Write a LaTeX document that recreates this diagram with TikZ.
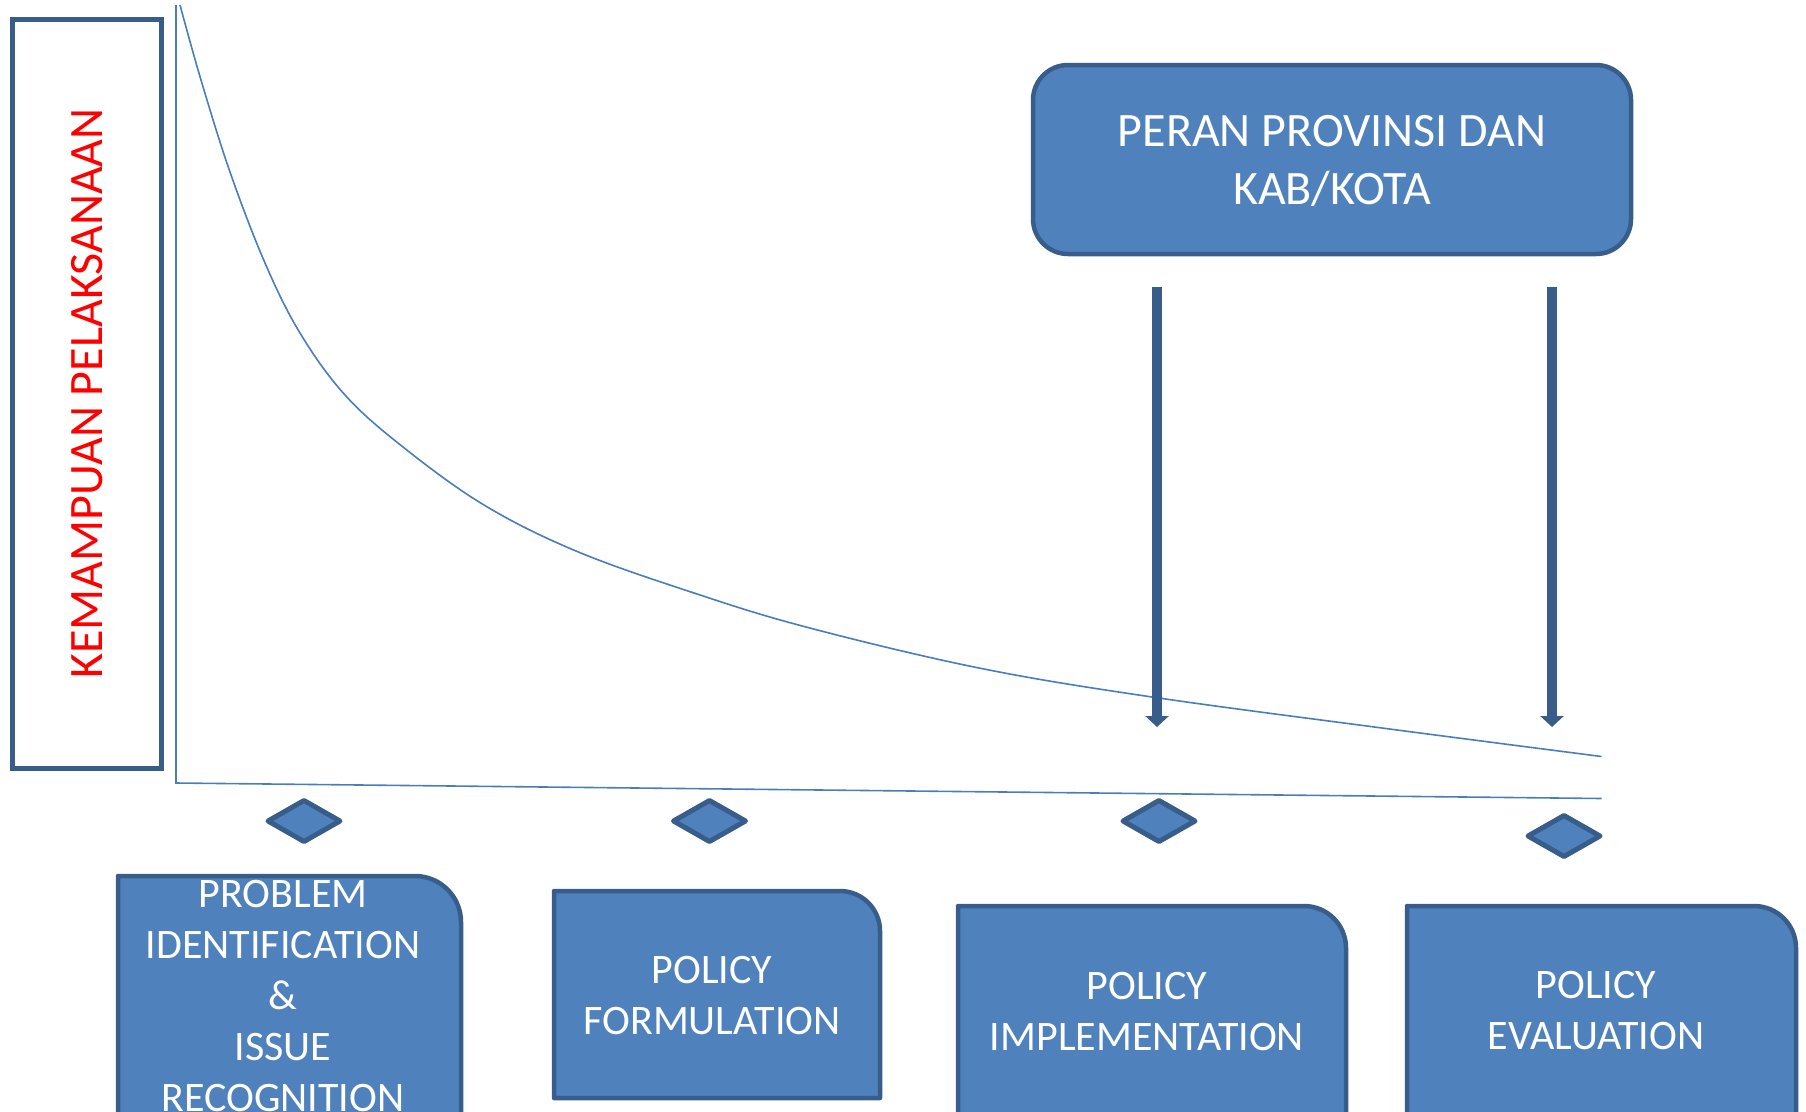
\documentclass[tikz,border=0pt]{standalone}
\usepackage{fontspec}
\setmainfont{Carlito}
\usetikzlibrary{arrows.meta,shapes.geometric}
\definecolor{stagefill}{HTML}{4F81BD}
\definecolor{stageedge}{HTML}{385D8A}
\definecolor{axisblue}{HTML}{4A7EBB}
\definecolor{labelred}{HTML}{FF0000}

\begin{document}
\begin{tikzpicture}[x=1pt,y=-1pt,
  stage/.style={fill=stagefill, draw=stageedge, line width=4.5pt, line join=round},
  stagetext/.style={text=white, align=center, inner sep=0pt,
    font=\fontsize{42}{51}\selectfont},
  marker/.style={diamond, fill=stagefill, draw=stageedge, line width=5pt,
    line join=round, minimum width=74pt, minimum height=43pt, inner sep=0pt},
  thinline/.style={draw=axisblue, line width=1.6pt},
  role/.style={-{Triangle[width=23pt,length=11pt]}, draw=stageedge, line width=10pt}]

\useasboundingbox (0,0) rectangle (1806,1111);
\clip (0,0) rectangle (1806,1111);

% vertical caption box
\node[draw=stageedge, line width=5pt, fill=white, minimum width=149pt,
  minimum height=749pt, inner sep=0pt] (leftbox) at (87,393.5) {};
\node[rotate=90, text=labelred, inner sep=0pt,
  font=\fontsize{48}{58}\selectfont] (ylabel) at (87.5,393.5) {KEMAMPUAN PELAKSANAAN};

% axes
\coordinate (origin) at (176,783);
\coordinate (ytop) at (176,5);
\coordinate (xend) at (1601.5,798.5);
\draw[thinline] (ytop) -- (origin) -- (xend);

% declining capability curve
\draw[thinline] plot[smooth, tension=0.6] coordinates {
  (180,5) (201,80) (230,172) (265,263) (300,333) (345,395) (403,447)
  (484,505) (576,551) (691,592) (806,627) (979,668) (1152,697)
  (1382,728) (1601.5,756.5)};

% role box
\node[stage, rounded corners=35pt, minimum width=598pt, minimum height=189pt,
  inner sep=0pt] (peran) at (1332,159.5) {};
\node[text=white, align=center, inner sep=0pt,
  font=\fontsize{48}{58}\selectfont] (perantext) at (1332,161) {PERAN PROVINSI DAN\\KAB/KOTA};

% arrows from the role box down to the curve
\coordinate (a1s) at (1157,287);
\coordinate (a1e) at (1157,727);
\coordinate (a2s) at (1552,287);
\coordinate (a2e) at (1552,727);
\draw[role] (a1s) -- (a1e);
\draw[role] (a2s) -- (a2e);

% stage markers
\node[marker] (m1) at (304,821) {};
\node[marker] (m2) at (709.5,821) {};
\node[marker] (m3) at (1159,821) {};
\node[marker] (m4) at (1564,836) {};

% stage boxes (rounded top-right corner only)
\path[stage] (118,1140) -- (118,876) -- (415,876) arc[start angle=-90, end angle=0, radius=46] -- (461,1140) -- cycle;
\path[stage] (554,1098) -- (554,891) -- (840,891) arc[start angle=-90, end angle=0, radius=40] -- (880,1098) -- cycle;
\path[stage] (958,1140) -- (958,906) -- (1304,906) arc[start angle=-90, end angle=0, radius=42] -- (1346,1140) -- cycle;
\path[stage] (1407,1140) -- (1407,906) -- (1754,906) arc[start angle=-90, end angle=0, radius=42] -- (1796,1140) -- cycle;

\node[stagetext] (s1) at (283,995.5) {PROBLEM\\IDENTIFICATION\\\&\\ISSUE\\RECOGNITION};
\node[stagetext] (s2) at (712,995.5) {POLICY\\FORMULATION};
\node[stagetext] (s3) at (1147,1011) {POLICY\\IMPLEMENTATION};
\node[stagetext] (s4) at (1596,1011) {POLICY\\EVALUATION};

\end{tikzpicture}
\end{document}
